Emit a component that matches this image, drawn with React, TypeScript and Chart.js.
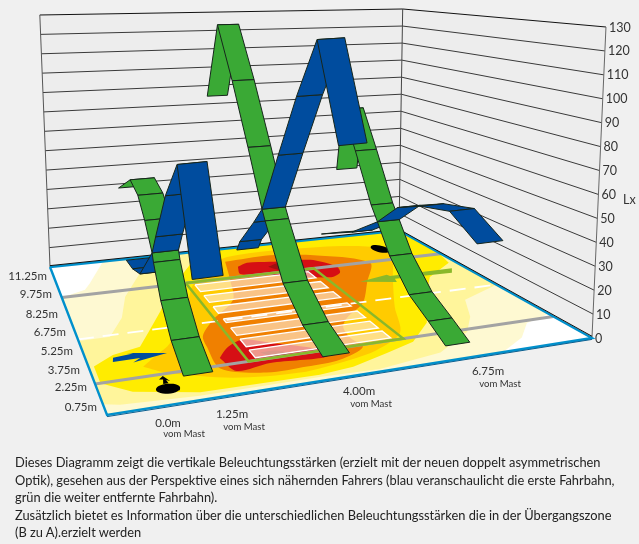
import React, { useEffect, useRef } from "react";
import { Chart, registerables } from "chart.js";

Chart.register(...registerables);

// ---- Data -------------------------------------------------------------
const luxTicks = [0, 10, 20, 30, 40, 50, 60, 70, 80, 90, 100, 110, 120, 130];
const rowLabels = ["0.75m", "2.25m", "3.75m", "5.25m", "6.75m", "8.25m", "9.75m", "11.25m"];
const rowLabelY = [407, 387, 370, 351, 332, 314, 294, 276];
const rowLabelRight = [97, 87, 80, 73, 66, 58, 52, 47];
const mastLabels = ["0.0m", "1.25m", "4.00m", "6.75m"];
const mastLabelX = [168, 232, 359, 488];
const mastLabelY = [423, 414, 391, 371];
const mastSubX = [184, 244, 371, 500];
const mastSubY = [434, 427, 404, 384];

// across-road fraction of each ribbon centre, half width
const ribbonCentre = [0.19, 0.4675, 0.7235];
const ribbonHalf = [0.0285, 0.0285, 0.028];

// rows (m from the front edge) and illuminance (lx)
const green1Rows = [10.32, 8.16, 6.96, 6, 5.04, 4.88, 4.02, 2.82, 1.49];
const green1Lux = [43, 53.4, 50.1, 42.3, 32.1, 28.7, 16.6, 6.5, 0];
const blue1Rows = [9.24, 8.16, 6.96, 5.04, 4.5, 3.12, 1.68, 0.36];
const blue1Lux = [11.4, 11.8, 14.6, 32.1, 41.2, 63.8, 82, 43.7];
const green2Rows = [12.6, 11.1, 9.42, 7.74, 6.36, 6.06, 4.44, 2.82, 1.32];
const green2Lux = [83, 122.6, 95, 65.6, 40.8, 36.5, 15.4, 5.4, 0.5];
const blue2Rows = [9.12, 8.76, 7.2, 6.36, 4.8, 3.24, 1.68, 0.24];
const blue2Lux = [11.2, 16.7, 31.8, 40.8, 70.1, 99.8, 127.3, 89.5];
const green3Rows = [8.64, 8.16, 7.08, 5.82, 5.34, 4.44, 3.12, 1.92, 0.92];
const green3Lux = [48.7, 80.2, 62, 40, 33.9, 21.8, 10.5, 5, 0];
const blue3Rows = [10.02, 7.32, 5.34, 3.96, 2.52, 0.84, -0.6];
const blue3Lux = [11, 21.8, 33.9, 45.3, 51.2, 55.7, 48.9];

// floor contours as [across fraction, along fraction]
const creamZone = [[0.136, 1], [1, 1], [1, 0.17], [0.923, 0.135], [0.866, 0.06], [0.787, 0], [0, 0], [0, 0.72], [0.059, 0.76], [0.077, 0.81]];
const paleZone = [[0.221, 1], [1, 1], [1, 0.41], [0.874, 0.333], [0.828, 0.22], [0.776, 0.135], [0.669, 0.047], [0.522, 0.013], [0.4, 0.02], [0.169, 0.02], [0.028, 0.035], [0, 0.05], [0, 0.4], [0.065, 0.4], [0.108, 0.515], [0.14, 0.666], [0.208, 0.853]];
const yellowZone = [[0.01, 0.24], [0.01, 0.15], [0.059, 0.086], [0.173, 0.035], [0.404, 0.03], [0.478, 0.043], [0.568, 0.086], [0.644, 0.125], [0.721, 0.221], [0.814, 0.416], [0.878, 0.533], [0.98, 0.63], [1, 0.74], [1, 1], [0.469, 1], [0.388, 0.953], [0.342, 0.875], [0.25, 0.68], [0.195, 0.523], [0.144, 0.393], [0.113, 0.316], [0.054, 0.29]];
const amberZone = [[0.099, 0.202], [0.136, 0.153], [0.247, 0.08], [0.373, 0.055], [0.485, 0.08], [0.556, 0.11], [0.641, 0.185], [0.701, 0.35], [0.782, 0.546], [0.864, 0.74], [0.878, 0.837], [0.72, 0.915], [0.453, 0.915], [0.364, 0.796], [0.305, 0.684], [0.259, 0.535], [0.174, 0.312], [0.136, 0.256]];
const orangeZone = [[0.436, 0.87], [0.565, 0.886], [0.667, 0.846], [0.788, 0.711], [0.713, 0.548], [0.644, 0.405], [0.572, 0.32], [0.542, 0.266], [0.532, 0.198], [0.536, 0.137], [0.467, 0.088], [0.395, 0.079], [0.314, 0.08], [0.236, 0.135], [0.24, 0.26], [0.248, 0.33], [0.293, 0.423], [0.371, 0.545], [0.406, 0.705]];
const redBack = [[0.455, 0.811], [0.487, 0.838], [0.546, 0.823], [0.651, 0.8], [0.694, 0.71], [0.682, 0.656], [0.644, 0.627], [0.504, 0.71], [0.443, 0.745]];
const darkBack = [[0.528, 0.78], [0.568, 0.805], [0.58, 0.755], [0.548, 0.74]];
const redFront = [[0.249, 0.19], [0.277, 0.24], [0.318, 0.274], [0.367, 0.234], [0.45, 0.156], [0.449, 0.113], [0.334, 0.125], [0.262, 0.11]];
const darkFront = [[0.332, 0.188], [0.367, 0.185], [0.389, 0.147], [0.35, 0.157]];

const curbRows = [0.15, 0.72];
const centreRow = 0.41;
const laneZone = { left: 0.297, right: 0.633, front: 0.15, back: 0.72 };
const laneBoxRows = [0.187, 0.255, 0.33, 0.406, 0.487, 0.575, 0.667];
const laneBoxHalf = [0.023, 0.024, 0.025, 0.013, 0.025, 0.028, 0.03];
const laneBoxEdges = [0.315, 0.61];

const blueArrow = [[0.052, 0.274], [0.093, 0.282], [0.082, 0.29], [0.157, 0.258], [0.085, 0.232], [0.102, 0.252], [0.048, 0.25]];
const greenArrow = [[0.964, 0.58], [0.789, 0.58], [0.785, 0.592], [0.7, 0.562], [0.784, 0.526], [0.79, 0.552], [0.946, 0.545]];
const mastArrow = [[0.125, 0.14], [0.115, 0.125], [0.122, 0.122], [0.118, 0.1], [0.128, 0.1], [0.127, 0.118], [0.133, 0.11]];
const masts = [
  { s: 0.122, t: 0.075, rs: 0.022, rt: 0.024 },
  { s: 0.867, t: 0.83, rs: 0.022, rt: 0.044 },
];

const caption = [
  "Dieses Diagramm zeigt die vertikale Beleuchtungsstärken (erzielt mit der neuen doppelt asymmetrischen",
  "Optik), gesehen aus der Perspektive eines sich nähernden Fahrers (blau veranschaulicht die erste Fahrbahn,",
  "grün die weiter entfernte Fahrbahn).",
  "Zusätzlich bietet es Information über die unterschiedlichen Beleuchtungsstärken die in der Übergangszone",
  "(B zu A).erzielt werden",
];

// ---- Camera (floor homography and height vectors) ---------------------
const FLOOR_DEPTH = 12;
const floorXY = (s: number, t: number) => {
  const w = 1 + 0.2058 * s + 0.5035 * t;
  return {
    x: (606.8 * s - 31.8 * t + 107) / w,
    y: (-7.44 * s - 13.57 * t + 415) / w,
  };
};
const UP = {
  A: [-11.3 / 130, -351 / 130],
  B: [14 / 130, -311 / 130],
  C: [3.7 / 130, -221.5 / 130],
  D: [-10.2 / 130, -252 / 130],
};
const project = (s: number, t: number, z = 0) => {
  const f = floorXY(s, t);
  const mix = (i: number) =>
    (1 - s) * (1 - t) * UP.A[i] + s * (1 - t) * UP.B[i] + s * t * UP.C[i] + (1 - s) * t * UP.D[i];
  return { x: f.x + z * mix(0), y: f.y + z * mix(1) };
};

// ---- Layers -----------------------------------------------------------
type Pt = number[];
const layers: any[] = [];
const shape = (pts: Pt[], fill: string | null, stroke?: string, width = 0, dash?: number[], tension = 0) => {
  const closed = fill ? [...pts, pts[0]] : pts;
  layers.push({
    showLine: true,
    data: closed.map((p) => project(p[0], p[1], p[2] ?? 0)),
    fill: fill ? "shape" : false,
    backgroundColor: fill ?? "transparent",
    borderColor: stroke ?? "transparent",
    borderWidth: width,
    borderDash: dash ?? [],
    tension,
    pointRadius: 0,
    pointHoverRadius: 0,
    borderJoinStyle: "miter",
    borderCapStyle: "butt",
  });
};

const WALL = "#ededed";
const GRID = "#3a3a3a";
const TOP = luxTicks[luxTicks.length - 1];
shape([[0, 1, 0], [1, 1, 0], [1, 1, TOP], [0, 1, TOP]], WALL);
shape([[1, 1, 0], [1, 0, 0], [1, 0, TOP], [1, 1, TOP]], WALL);
luxTicks.forEach((z) => {
  const c = z === TOP ? "#111" : GRID;
  shape([[0, 1, z], [1, 1, z]], null, c, 1);
  shape([[1, 1, z], [1, 0, z]], null, c, 1);
});
shape([[0, 1, 0], [0, 1, TOP]], null, "#555", 1);
shape([[1, 1, 0], [1, 1, TOP]], null, "#444", 1);
shape([[1, 0, 0], [1, 0, TOP]], null, "#666", 1);

// floor
const SMOOTH = 0.3;
shape([[0, 0], [1, 0], [1, 1], [0, 1]], "#ffffff");
shape(creamZone, "#fef9d2");
shape(paleZone, "#fff59b");
shape(yellowZone, "#ffec00");
shape(amberZone, "#ffcb00", undefined, 0, undefined, SMOOTH);
shape(orangeZone, "#f08000", undefined, 0, undefined, SMOOTH);
shape(redBack, "#d60f14", undefined, 0, undefined, SMOOTH);
shape(redFront, "#d60f14", undefined, 0, undefined, SMOOTH);
shape(darkBack, "#a01010", undefined, 0, undefined, SMOOTH);
shape(darkFront, "#a01010", undefined, 0, undefined, SMOOTH);

curbRows.forEach((t) => shape([[0, t], [1, t]], null, "#a3a3a3", 3));

laneBoxRows.forEach((t, i) => {
  const h = laneBoxHalf[i];
  shape(
    [[laneBoxEdges[0], t + h], [laneBoxEdges[1], t + h], [laneBoxEdges[1], t - h], [laneBoxEdges[0], t - h]],
    "rgba(255,236,215,0.62)",
    "#ffffff",
    1.3,
  );
});
shape([[0, centreRow], [1, centreRow]], null, "#ffffff", 1.8, [16, 9]);
shape(
  [[laneZone.left, laneZone.back], [laneZone.right, laneZone.back], [laneZone.right, laneZone.front], [laneZone.left, laneZone.front], [laneZone.left, laneZone.back]],
  null,
  "#8ab82a",
  2.5,
);

shape(blueArrow, "#004c9e");
shape(greenArrow, "#8ab82a");
masts.forEach((m) => {
  const ring: Pt[] = [];
  for (let k = 0; k < 28; k++) {
    const a = (k / 28) * Math.PI * 2;
    ring.push([m.s + m.rs * Math.cos(a), m.t + m.rt * Math.sin(a)]);
  }
  shape(ring, "#000000");
});
shape(mastArrow, "#000000");

// floor edge
shape([[0, 1], [0, 0], [1, 0], [1, 1], [0, 1]], null, "#0090cc", 2.4);
shape([[0, 1, 0.7], [1, 1, 0.7], [1, 0, 0.7]], null, "#111", 1);
shape([[0, 0, -0.6], [1, 0, -0.6]], null, "#0b5f8f", 1);

// ribbons: each quad painted back to front
const ribbon = (idx: number, rows: number[][], lux: number[][], colors: string[]) => {
  const quads: { key: number; pts: Pt[]; color: string }[] = [];
  const c = ribbonCentre[idx];
  const h = ribbonHalf[idx];
  rows.forEach((rs, k) => {
    for (let i = 0; i + 1 < rs.length; i++) {
      const t0 = rs[i] / FLOOR_DEPTH;
      const t1 = rs[i + 1] / FLOOR_DEPTH;
      quads.push({
        key: (t0 + t1) / 2,
        color: colors[k],
        pts: [
          [c - h, t0, lux[k][i]],
          [c + h, t0, lux[k][i]],
          [c + h, t1, lux[k][i + 1]],
          [c - h, t1, lux[k][i + 1]],
        ],
      });
    }
  });
  quads.sort((a, b) => b.key - a.key).forEach((q) => shape(q.pts, q.color, "#17261c", 1));
};
const GREEN = "#3aa935";
const BLUE = "#004c9e";
ribbon(2, [green3Rows, blue3Rows], [green3Lux, blue3Lux], [GREEN, BLUE]);
ribbon(1, [green2Rows, blue2Rows], [green2Lux, blue2Lux], [GREEN, BLUE]);
ribbon(0, [green1Rows, blue1Rows], [green1Lux, blue1Lux], [GREEN, BLUE]);

layers.forEach((d, i) => {
  d.order = layers.length - i;
});

// ---- Text drawn on the canvas -----------------------------------------
const FONT = "Lato, 'Noto Sans', sans-serif";
const textPlugin = {
  id: "floorText",
  afterDraw(chart: any) {
    const { ctx } = chart;
    ctx.save();
    ctx.fillStyle = "#333";
    ctx.textBaseline = "middle";
    ctx.font = `12.5px ${FONT}`;
    ctx.textAlign = "left";
    luxTicks.forEach((z) => {
      const p = project(1, 0, z);
      ctx.fillText(String(z), p.x + 3, p.y + 0.5);
    });
    ctx.fillText("Lx", 623, 200);
    ctx.font = `11.5px ${FONT}`;
    ctx.textAlign = "right";
    rowLabels.forEach((l, i) => ctx.fillText(l, rowLabelRight[i], rowLabelY[i]));
    ctx.textAlign = "center";
    mastLabels.forEach((l, i) => ctx.fillText(l, mastLabelX[i], mastLabelY[i]));
    ctx.font = `9.6px ${FONT}`;
    mastLabels.forEach((_, i) => ctx.fillText("vom Mast", mastSubX[i], mastSubY[i]));
    ctx.restore();
  },
};

export default function App() {
  const ref = useRef<HTMLCanvasElement>(null);
  useEffect(() => {
    document.body.style.margin = "0";
    document.body.style.background = "#f0f0f0";
    const chart = new Chart(ref.current as HTMLCanvasElement, {
      type: "scatter",
      data: { datasets: layers },
      options: {
        animation: false,
        responsive: false,
        events: [],
        layout: { padding: 0 },
        plugins: { legend: { display: false }, tooltip: { enabled: false }, title: { display: false } },
        scales: {
          x: { type: "linear", min: 0, max: 639, display: false },
          y: { type: "linear", min: 0, max: 544, reverse: true, display: false },
        },
      },
      plugins: [textPlugin],
    } as any);
    return () => chart.destroy();
  }, []);
  return (
    <div style={{ position: "relative", width: 639, height: 544, background: "#f0f0f0", overflow: "hidden" }}>
      <canvas ref={ref} width={639} height={544} style={{ position: "absolute", left: 0, top: 0, display: "block" }} />
      {caption.map((line, i) => (
        <div
          key={i}
          style={{
            position: "absolute",
            left: 15,
            top: 453 + i * 17.6,
            font: `12.85px/18px ${FONT}`,
            color: "#222",
            whiteSpace: "nowrap",
          }}
        >
          {line}
        </div>
      ))}
    </div>
  );
}
